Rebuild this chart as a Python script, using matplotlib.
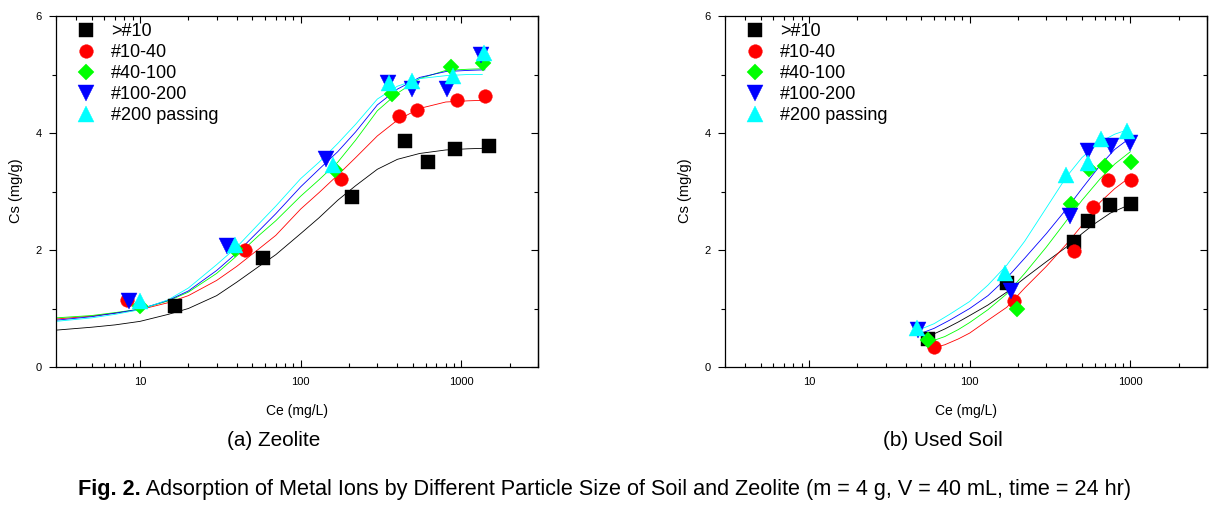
import numpy as np
import matplotlib
matplotlib.use('Agg')
import matplotlib.pyplot as plt
from matplotlib.ticker import FixedLocator, LogLocator, NullFormatter, FuncFormatter

plt.rcParams['font.family'] = ['Liberation Sans', 'DejaVu Sans']
cap_font = ['Liberation Sans Narrow', 'Liberation Sans', 'DejaVu Sans']

labels = ['>#10', '#10-40', '#40-100', '#100-200', '#200 passing']
colors = ['#000000', '#ff0000', '#00ff00', '#0000ff', '#00ffff']
markers = ['s', 'o', 'D', 'v', '^']
msizes = [9.5, 9.8, 8.5, 11.8, 11.8]

# (a) zeolite, measured
zeo_ce = [
    [16.5, 58, 209, 449, 617, 916, 1489],
    [8.3, 45, 178, 409, 528, 935, 1406],
    [10, 39, 164, 370, 859, 1358],
    [8.5, 35, 144, 351, 490, 815, 1325],
    [10, 39, 159, 355, 496, 881, 1393],
]
zeo_cs = [
    [1.05, 1.87, 2.91, 3.86, 3.51, 3.73, 3.78],
    [1.14, 2.00, 3.22, 4.29, 4.40, 4.56, 4.64],
    [1.05, 2.01, 3.37, 4.66, 5.12, 5.20],
    [1.12, 2.06, 3.55, 4.86, 4.76, 4.76, 5.34],
    [1.12, 2.08, 3.46, 4.86, 4.89, 4.97, 5.37],
]
# (a) zeolite, fitted curves
zeo_fit_ce = [
    [3, 5, 7, 10, 15, 20, 30, 40, 55, 70, 100, 130, 170, 220, 300, 400, 550, 800, 1100, 1450],
    [3, 5, 7, 10, 15, 20, 30, 40, 55, 70, 100, 130, 170, 220, 300, 400, 550, 800, 1100, 1400],
    [3, 5, 7, 10, 15, 20, 30, 40, 55, 70, 100, 130, 170, 220, 300, 400, 550, 800, 1100, 1400],
    [3, 5, 7, 10, 15, 20, 30, 40, 55, 70, 100, 130, 170, 220, 300, 400, 550, 800, 1100, 1400],
    [3, 5, 7, 10, 15, 20, 30, 40, 55, 70, 100, 130, 170, 220, 300, 400, 550, 800, 1100, 1350],
]
zeo_fit_cs = [
    [0.63, 0.68, 0.72, 0.78, 0.90, 1.00, 1.22, 1.45, 1.72, 1.92, 2.28, 2.55, 2.85, 3.10,
     3.38, 3.55, 3.65, 3.71, 3.73, 3.74],
    [0.82, 0.87, 0.92, 0.98, 1.10, 1.22, 1.48, 1.72, 2.02, 2.25, 2.70, 2.98, 3.28, 3.58,
     3.95, 4.22, 4.42, 4.53, 4.55, 4.56],
    [0.84, 0.88, 0.93, 0.99, 1.13, 1.28, 1.60, 1.90, 2.25, 2.50, 2.92, 3.20, 3.50, 3.88,
     4.38, 4.68, 4.93, 5.07, 5.09, 5.10],
    [0.80, 0.86, 0.92, 0.99, 1.14, 1.30, 1.65, 1.95, 2.33, 2.62, 3.08, 3.38, 3.68, 4.02,
     4.48, 4.75, 4.95, 5.05, 5.07, 5.08],
    [0.78, 0.84, 0.90, 0.98, 1.15, 1.35, 1.75, 2.05, 2.45, 2.75, 3.22, 3.50, 3.82, 4.15,
     4.58, 4.80, 4.93, 4.98, 5.00, 5.00],
]

# (b) used soil, measured
soil_ce = [
    [55, 171, 449, 546, 745, 1004],
    [60, 190, 449, 588, 725, 1004],
    [55, 198, 428, 556, 697, 1016],
    [48, 180, 424, 546, 753, 988],
    [47, 167, 396, 546, 658, 951],
]
soil_cs = [
    [0.48, 1.44, 2.13, 2.50, 2.77, 2.79],
    [0.35, 1.12, 1.98, 2.74, 3.20, 3.19],
    [0.47, 0.99, 2.78, 3.38, 3.44, 3.50],
    [0.64, 1.30, 2.58, 3.69, 3.78, 3.83],
    [0.67, 1.60, 3.29, 3.49, 3.90, 4.03],
]
# (b) used soil, fitted curves
soil_fit_ce = [
    [55, 70, 85, 100, 130, 170, 220, 300, 400, 500, 600, 750, 1000],
    [60, 70, 85, 100, 130, 170, 220, 300, 400, 500, 650, 800, 1000],
    [55, 70, 85, 100, 130, 170, 220, 300, 400, 500, 650, 800, 1000],
    [48, 60, 75, 100, 130, 170, 220, 300, 400, 500, 650, 800, 1000],
    [47, 60, 75, 100, 130, 170, 220, 300, 400, 500, 650, 800, 950],
]
soil_fit_cs = [
    [0.52, 0.65, 0.77, 0.88, 1.06, 1.28, 1.52, 1.80, 2.05, 2.28, 2.45, 2.63, 2.78],
    [0.33, 0.38, 0.48, 0.58, 0.80, 1.02, 1.35, 1.72, 2.10, 2.42, 2.82, 3.05, 3.25],
    [0.42, 0.52, 0.64, 0.76, 0.98, 1.25, 1.60, 2.05, 2.50, 2.85, 3.22, 3.47, 3.68],
    [0.56, 0.66, 0.80, 1.00, 1.22, 1.52, 1.86, 2.28, 2.70, 3.05, 3.45, 3.72, 3.92],
    [0.62, 0.74, 0.90, 1.12, 1.40, 1.74, 2.15, 2.72, 3.25, 3.58, 3.85, 3.98, 4.05],
]

W, H = 1227, 507
fig = plt.figure(figsize=(W / 100, H / 100), dpi=100)


def panel(left_px, ce, cs, fit_ce, fit_cs):
    ax = fig.add_axes([left_px / W, 1 - 367 / H, 482 / W, 351 / H])
    for i in range(5):
        ax.plot(fit_ce[i], fit_cs[i], color=colors[i], lw=0.6, zorder=2)
    for i in range(5):
        ax.plot(ce[i], cs[i], ls='none', marker=markers[i], ms=msizes[i],
                color=colors[i], mec=colors[i], mew=0.3, label=labels[i], zorder=3)
    ax.set_xscale('log')
    ax.set_xlim(3, 3000)
    ax.set_ylim(0, 6)
    ax.xaxis.set_major_locator(FixedLocator([10, 100, 1000]))
    ax.xaxis.set_minor_locator(LogLocator(base=10, subs=np.arange(2, 10)))
    ax.xaxis.set_major_formatter(FuncFormatter(lambda v, p: '%g' % v))
    ax.xaxis.set_minor_formatter(NullFormatter())
    ax.yaxis.set_major_locator(FixedLocator([0, 2, 4, 6]))
    ax.yaxis.set_minor_locator(FixedLocator([1, 3, 5]))
    ax.tick_params(axis='x', which='both', direction='in', top=True, labelsize=8, pad=7, width=0.8)
    ax.tick_params(axis='y', which='both', direction='out', right=False, labelsize=8, pad=5, width=0.8)
    ax.tick_params(which='major', length=5)
    ax.tick_params(which='minor', length=3)
    sec = ax.secondary_yaxis('right')
    sec.yaxis.set_major_locator(FixedLocator([0, 2, 4, 6]))
    sec.yaxis.set_minor_locator(FixedLocator([1, 3, 5]))
    sec.tick_params(which='both', direction='in', labelright=False, width=0.8)
    sec.tick_params(which='major', length=5)
    sec.tick_params(which='minor', length=3)
    sec.spines['right'].set_linewidth(0.9)
    for s in ax.spines.values():
        s.set_linewidth(0.9)
    ax.legend(loc='upper left', bbox_to_anchor=(21 / 482, 1 - 7.5 / 351),
              borderaxespad=0, borderpad=0, frameon=False, fontsize=13,
              handlelength=1.0, handletextpad=0.89, labelspacing=0.22)
    cx = (left_px + 241) / W
    fig.text(cx, 1 - 411 / H, 'Ce (mg/L)', ha='center', va='center', fontsize=10)
    fig.text((left_px - 40) / W, 1 - 191 / H, 'Cs (mg/g)', rotation=90,
             ha='center', va='center', fontsize=10.5)
    return ax


ax1 = panel(56, zeo_ce, zeo_cs, zeo_fit_ce, zeo_fit_cs)
ax2 = panel(725, soil_ce, soil_cs, soil_fit_ce, soil_fit_cs)

renderer = fig.canvas.get_renderer()


def fit_width(t, width_px):
    w = t.get_window_extent(renderer).width
    t.set_fontsize(t.get_fontsize() * width_px / w)


sa = fig.text(274 / W, 1 - 440 / H, '(a) Zeolite', ha='center', va='center',
              fontsize=14, family=cap_font)
sb = fig.text(943 / W, 1 - 440 / H, '(b) Used Soil', ha='center', va='center',
              fontsize=14, family=cap_font)
fit_width(sa, 94)
sb.set_fontsize(sa.get_fontsize())

cap_y = 1 - 490 / H
c1 = fig.text(78 / W, cap_y, 'Fig. 2.', fontweight='bold', fontsize=14,
              ha='left', va='center', family=cap_font)
c2 = fig.text(0, cap_y, ' Adsorption of Metal Ions by Different Particle Size of Soil and Zeolite '
              '(m = 4 g, V = 40 mL, time = 24 hr)', fontsize=14, ha='left', va='center',
              family=cap_font)
w1 = c1.get_window_extent(renderer).width
w2 = c2.get_window_extent(renderer).width
k = 1060 / (w1 + w2)
c1.set_fontsize(14 * k)
c2.set_fontsize(14 * k)
w1 = c1.get_window_extent(renderer).width
c2.set_x((78 + w1) / W)

fig.savefig('out.png', dpi=100)
